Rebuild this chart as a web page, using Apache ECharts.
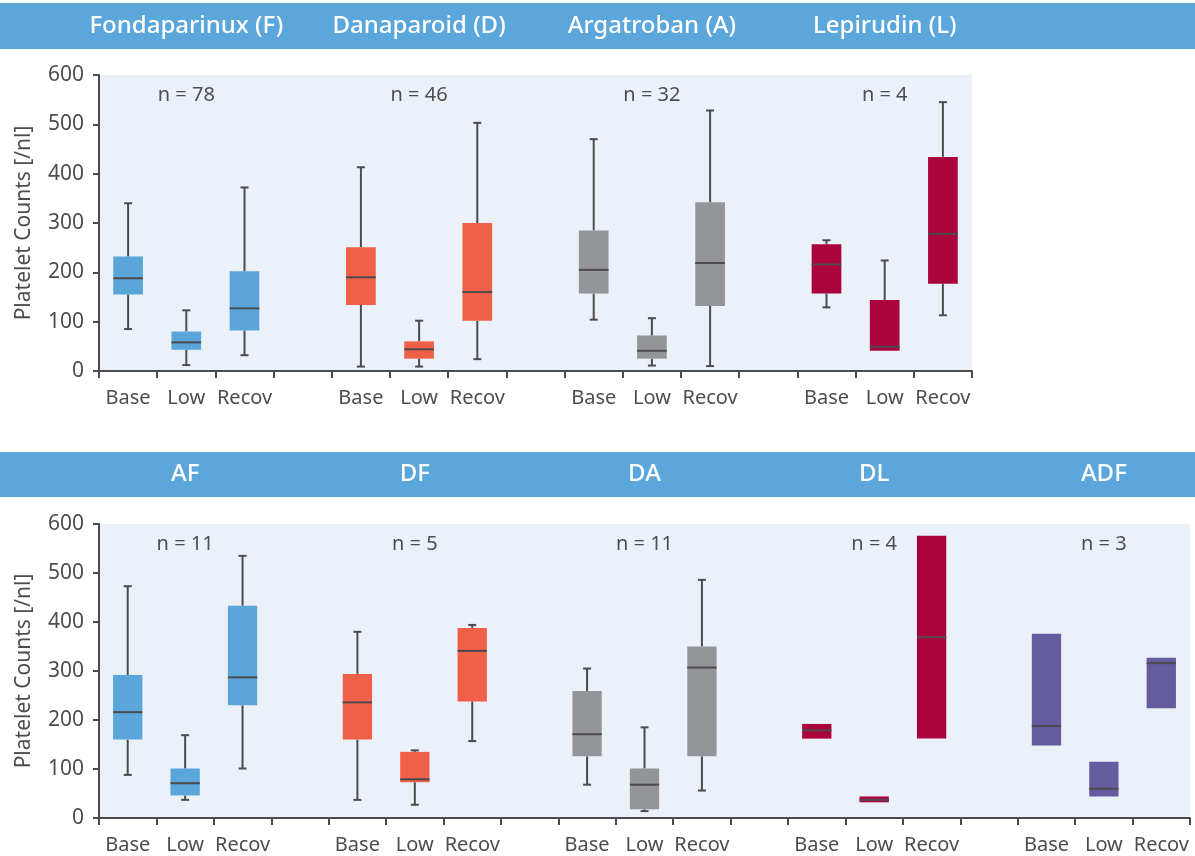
<!DOCTYPE html>
<html><head><meta charset="utf-8">
<script src="https://cdn.jsdelivr.net/npm/echarts@6/dist/echarts.min.js"></script>
<style>html,body{margin:0;padding:0;background:#fff}#chart{width:1195px;height:856px}</style>
</head><body><div id="chart"></div>
<script>
// ---- data ----
const phaseLabels = ['Base', 'Low', 'Recov'];
const topGroups = ['Fondaparinux (F)', 'Danaparoid (D)', 'Argatroban (A)', 'Lepirudin (L)'];
const topN = [78, 46, 32, 4];
const bottomGroups = ['AF', 'DF', 'DA', 'DL', 'ADF'];
const bottomN = [11, 5, 11, 4, 3];
const yAxisName = 'Platelet Counts [/nl]';
// each row: [min, Q1, median, Q3, max] for Base, Low, Recov
const fondaparinux = [[85, 155, 188, 232, 340], [12, 43, 58, 80, 123], [32, 82, 127, 202, 372]];
const danaparoid   = [[9, 134, 190, 251, 413], [9, 25, 44, 60, 102], [24, 102, 160, 300, 503]];
const argatroban   = [[104, 157, 205, 285, 470], [11, 25, 41, 72, 107], [10, 132, 219, 342, 528]];
const lepirudin    = [[129, 157, 216, 257, 265], [41, 41, 49, 144, 224], [113, 177, 278, 434, 545]];
const groupAF  = [[88, 160, 216, 292, 473], [37, 46, 71, 101, 169], [101, 230, 287, 433, 535]];
const groupDF  = [[37, 160, 236, 294, 380], [27, 73, 79, 135, 138], [157, 238, 341, 388, 394]];
const groupDA  = [[68, 126, 171, 259, 305], [14, 18, 68, 101, 185], [56, 126, 307, 350, 486]];
const groupDL  = [[162, 162, 179, 192, 192], [32, 32, 37, 44, 44], [162, 162, 369, 576, 576]];
const groupADF = [[148, 148, 188, 376, 376], [44, 44, 60, 115, 115], [224, 224, 316, 327, 327]];

const topColors = ['#5aa5da', '#f05f48', '#939598', '#ab033b'];
const bottomColors = ['#5aa5da', '#f05f48', '#939598', '#ab033b', '#645c9e'];
const axisColor = '#4b4b4d';
const textColor = '#4d4d4f';
const FONT = '"Noto Sans", "Open Sans", sans-serif';

function buildCategories(nGroups) {
  const cats = [];
  for (let g = 0; g < nGroups; g++) {
    if (g > 0) cats.push('');
    phaseLabels.forEach(p => cats.push(p));
  }
  return cats;
}
function buildData(groups) {
  const out = [];
  groups.forEach((grp, g) => grp.forEach((v, p) => out.push([g * 4 + p, v[0], v[1], v[2], v[3], v[4], g])));
  return out;
}
const topCats = buildCategories(topGroups.length);
const bottomCats = buildCategories(bottomGroups.length);
const topData = buildData([fondaparinux, danaparoid, argatroban, lepirudin]);
const bottomData = buildData([groupAF, groupDF, groupDA, groupDL, groupADF]);

function boxRenderer(colors) {
  return function (params, api) {
    const x = api.value(0);
    const mn = api.value(1), q1 = api.value(2), md = api.value(3), q3 = api.value(4), mx = api.value(5);
    const fill = colors[api.value(6)];
    const pMin = api.coord([x, mn]), pQ1 = api.coord([x, q1]), pMed = api.coord([x, md]);
    const pQ3 = api.coord([x, q3]), pMax = api.coord([x, mx]);
    const bw = api.size([1, 0])[0] * 0.51;
    const cx = pMed[0], half = bw / 2, cap = 4;
    const ls = { stroke: axisColor, lineWidth: 2 };
    const ch = [];
    if (mn < q1) {
      ch.push({ type: 'line', shape: { x1: cx, y1: pQ1[1], x2: cx, y2: pMin[1] }, style: ls });
      ch.push({ type: 'line', shape: { x1: cx - cap, y1: pMin[1], x2: cx + cap, y2: pMin[1] }, style: ls });
    }
    if (mx > q3) {
      ch.push({ type: 'line', shape: { x1: cx, y1: pQ3[1], x2: cx, y2: pMax[1] }, style: ls });
      ch.push({ type: 'line', shape: { x1: cx - cap, y1: pMax[1], x2: cx + cap, y2: pMax[1] }, style: ls });
    }
    ch.push({ type: 'rect', shape: { x: cx - half, y: pQ3[1], width: bw, height: pQ1[1] - pQ3[1] }, style: { fill: fill } });
    ch.push({ type: 'line', shape: { x1: cx - half, y1: pMed[1], x2: cx + half, y2: pMed[1] }, style: { stroke: axisColor, lineWidth: 2 } });
    return { type: 'group', children: ch };
  };
}

function xAxisCfg(gridIndex, cats) {
  return {
    type: 'category', gridIndex, data: cats,
    axisLine: { lineStyle: { color: axisColor, width: 2 } },
    axisTick: { show: true, interval: 0, length: 7, lineStyle: { color: axisColor, width: 2 } },
    axisLabel: { interval: 0, color: textColor, fontSize: 20, fontFamily: FONT, margin: 17 },
    splitLine: { show: false }
  };
}
function yAxisCfg(gridIndex) {
  return {
    type: 'value', gridIndex, min: 0, max: 600, interval: 100,
    name: yAxisName, nameLocation: 'middle', nameGap: 64, nameRotate: 90,
    nameTextStyle: { color: textColor, fontSize: 21, fontFamily: FONT },
    axisLine: { show: true, lineStyle: { color: axisColor, width: 2 } },
    axisTick: { show: true, length: 6, lineStyle: { color: axisColor, width: 2 } },
    axisLabel: { color: textColor, fontSize: 21, fontFamily: FONT, margin: 15 },
    splitLine: { show: false }
  };
}

const chart = echarts.init(document.getElementById('chart'), null, { renderer: 'canvas' });
chart.setOption({
  animation: false,
  backgroundColor: '#ffffff',
  textStyle: { fontFamily: FONT },
  grid: [
    { left: 99, top: 75, width: 873, height: 296, show: true, backgroundColor: '#ebf1f9', borderWidth: 0 },
    { left: 99, top: 524, width: 1091, height: 294, show: true, backgroundColor: '#ebf1f9', borderWidth: 0 }
  ],
  xAxis: [xAxisCfg(0, topCats), xAxisCfg(1, bottomCats)],
  yAxis: [yAxisCfg(0), yAxisCfg(1)],
  series: [
    { type: 'custom', xAxisIndex: 0, yAxisIndex: 0, data: topData, renderItem: boxRenderer(topColors), encode: { x: 0, y: [1, 2, 3, 4, 5] } },
    { type: 'custom', xAxisIndex: 1, yAxisIndex: 1, data: bottomData, renderItem: boxRenderer(bottomColors), encode: { x: 0, y: [1, 2, 3, 4, 5] } }
  ]
});

// header bars, group titles and n labels positioned through the axes
const gfx = [
  { type: 'rect', shape: { x: 0, y: 3, width: 1195, height: 46 }, style: { fill: '#5ba6da' }, silent: true, z: 0 },
  { type: 'rect', shape: { x: 0, y: 452, width: 1195, height: 45 }, style: { fill: '#5ba6da' }, silent: true, z: 0 }
];
function addTexts(names, ns, axisIdx, headerY) {
  const nY = chart.convertToPixel({ yAxisIndex: axisIdx }, 559);
  names.forEach((name, g) => {
    const x = chart.convertToPixel({ xAxisIndex: axisIdx }, g * 4 + 1);
    gfx.push({ type: 'text', x: x, y: headerY, z: 5, style: { text: name, fill: '#ffffff', font: '500 24px ' + FONT, textAlign: 'center', textVerticalAlign: 'middle', align: 'center', verticalAlign: 'middle' } });
    gfx.push({ type: 'text', x: x, y: nY, z: 5, style: { text: 'n = ' + ns[g], fill: textColor, font: '20px ' + FONT, textAlign: 'center', textVerticalAlign: 'middle', align: 'center', verticalAlign: 'middle' } });
  });
}
addTexts(topGroups, topN, 0, 26);
addTexts(bottomGroups, bottomN, 1, 474);
chart.setOption({ graphic: gfx });
</script></body></html>
